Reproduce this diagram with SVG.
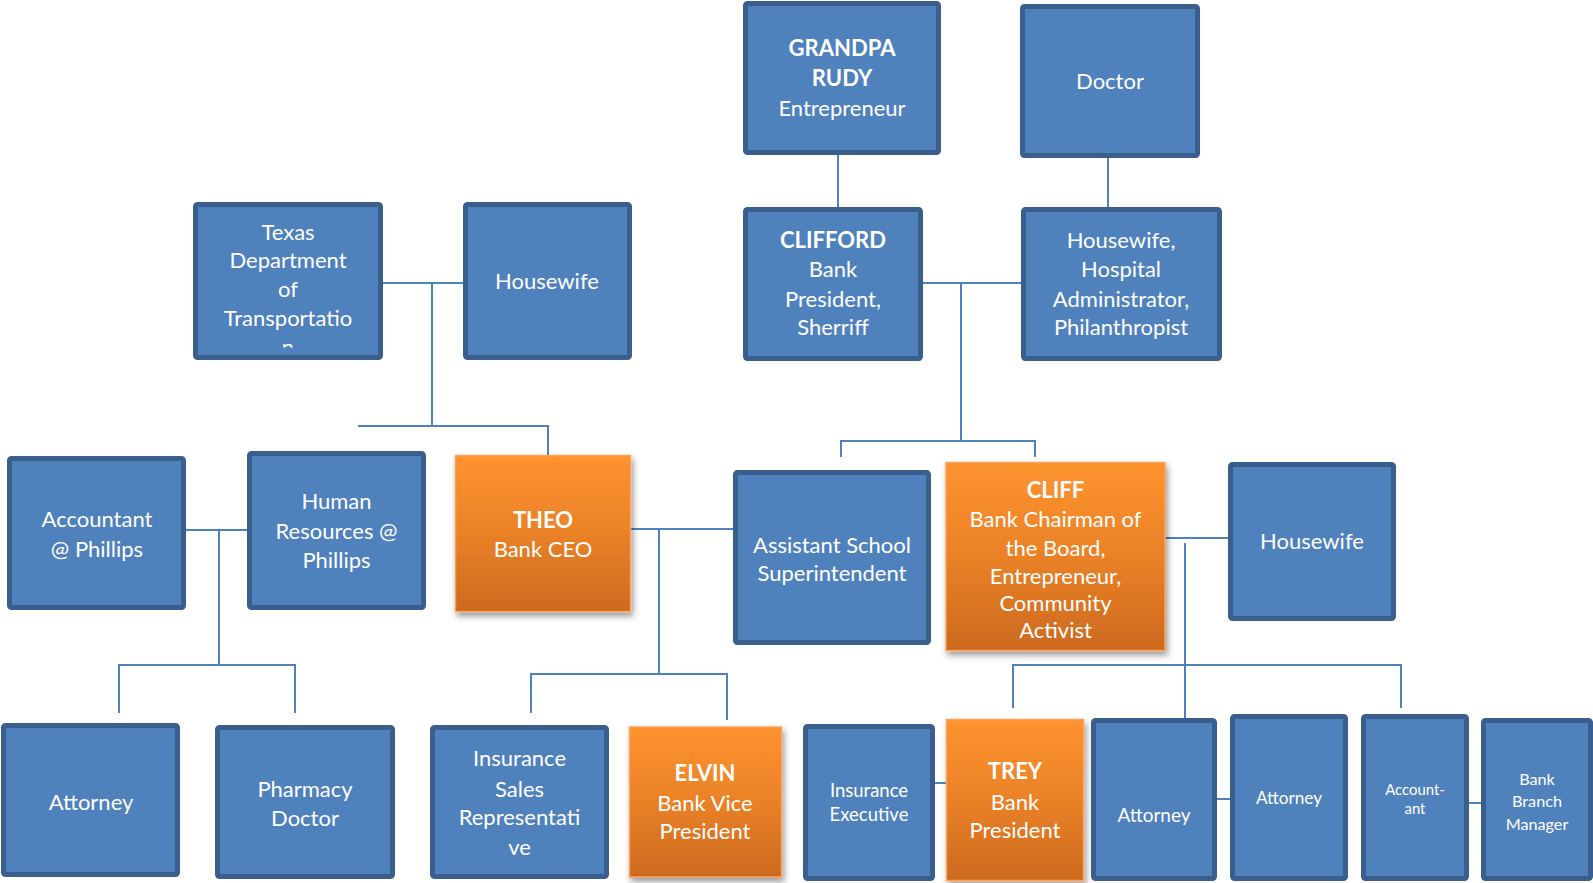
<svg xmlns="http://www.w3.org/2000/svg" width="1593" height="883" viewBox="0 0 1593 883">
  <style>
    .box { fill: #4F81BD; stroke: #3A5F8D; stroke-width: 5; }
    .hl { fill: url(#orangeFill); stroke: #F9A25E; stroke-width: 1.5; filter: url(#shadow); }
    .t { font-family: Lato, "Liberation Sans", sans-serif; font-size: 22px; fill: #FFFFFF; text-anchor: middle; }
    .b { font-weight: bold; }
    .conn path { fill: none; stroke: #4F81BD; stroke-width: 2; }
  </style>
  <defs>
    <linearGradient id="orangeFill" x1="0" y1="0" x2="0" y2="1">
      <stop offset="0" stop-color="#FE932F"/>
      <stop offset="0.5" stop-color="#EA8127"/>
      <stop offset="1" stop-color="#CC6A1F"/>
    </linearGradient>
    <filter id="shadow" x="-10%" y="-10%" width="125%" height="125%">
      <feDropShadow dx="2" dy="4" stdDeviation="3" flood-color="#000000" flood-opacity="0.4"/>
    </filter>
    <clipPath id="texasClip">
      <rect x="198" y="207" width="180" height="140.5"/>
    </clipPath>
  </defs>

  <rect width="1593" height="883" fill="#FFFFFF"/>

  <!-- connectors -->
  <g id="connectors" class="conn">
    <path d="M838,155 V207"/>
    <path d="M1108,158 V207"/>
    <path d="M923,283 H1021 M961,283 V441 M841,457 V441 H1035 V457"/>
    <path d="M383,283 H463 M432,283 V426 M358,426 H548 V455"/>
    <path d="M186,530 H247 M219,530 V665 M119,713 V665 H295 V713"/>
    <path d="M630,529 H733 M659,529 V674 M531,713 V674 H727 V720"/>
    <path d="M1158,538 H1228 M1185,543 V718"/>
    <path d="M1013,708 V665 H1401 V708"/>
    <path d="M935,783 H946 M1217,799 H1230 M1469,803 H1481"/>
  </g>

  <!-- top generation -->
  <g id="grandpa-rudy">
    <rect class="box" x="745.5" y="3.5" width="193" height="149" rx="2"/>
    <text class="t b" x="842" y="55.5">GRANDPA</text>
    <text class="t b" x="842" y="86">RUDY</text>
    <text class="t" x="842" y="115.5">Entrepreneur</text>
  </g>
  <g id="doctor">
    <rect class="box" x="1022.5" y="6.5" width="175" height="149" rx="2"/>
    <text class="t" x="1110" y="89">Doctor</text>
  </g>

  <!-- second generation -->
  <g id="texas-dot">
    <rect class="box" x="195.5" y="204.5" width="185" height="153" rx="2"/>
    <g clip-path="url(#texasClip)">
      <text class="t" x="288" y="239.5">Texas</text>
      <text class="t" x="288" y="268">Department</text>
      <text class="t" x="288" y="296.5">of</text>
      <text class="t" x="288" y="326">Transportatio</text>
      <text class="t" x="288" y="355">n</text>
    </g>
  </g>
  <g id="housewife-1">
    <rect class="box" x="465.5" y="204.5" width="164" height="153" rx="2"/>
    <text class="t" x="547" y="288.5">Housewife</text>
  </g>
  <g id="clifford">
    <rect class="box" x="745.5" y="209.5" width="175" height="149" rx="2"/>
    <text class="t b" x="833" y="248">CLIFFORD</text>
    <text class="t" x="833" y="277">Bank</text>
    <text class="t" x="833" y="306.5">President,</text>
    <text class="t" x="833" y="335">Sherriff</text>
  </g>
  <g id="housewife-2">
    <rect class="box" x="1023.5" y="209.5" width="196" height="149" rx="2"/>
    <text class="t" x="1121" y="248">Housewife,</text>
    <text class="t" x="1121" y="277">Hospital</text>
    <text class="t" x="1121" y="306.5">Administrator,</text>
    <text class="t" x="1121" y="335">Philanthropist</text>
  </g>

  <!-- third generation -->
  <g id="accountant-phillips">
    <rect class="box" x="9.5" y="458.5" width="174" height="149" rx="2"/>
    <text class="t" x="97" y="527">Accountant</text>
    <text class="t" x="97" y="556.5">@ Phillips</text>
  </g>
  <g id="hr-phillips">
    <rect class="box" x="249.5" y="453.5" width="174" height="154" rx="2"/>
    <text class="t" x="336.5" y="509">Human</text>
    <text class="t" x="336.5" y="539">Resources @</text>
    <text class="t" x="336.5" y="568">Phillips</text>
  </g>
  <g id="theo">
    <rect class="hl" x="455.5" y="455.5" width="175" height="156"/>
    <text class="t b" x="543" y="528">THEO</text>
    <text class="t" x="543" y="556.5">Bank CEO</text>
  </g>
  <g id="assistant-superintendent">
    <rect class="box" x="735.5" y="472.5" width="193" height="170" rx="2"/>
    <text class="t" x="832" y="552.5">Assistant School</text>
    <text class="t" x="832" y="581">Superintendent</text>
  </g>
  <g id="cliff">
    <rect class="hl" x="946" y="462.5" width="219" height="188"/>
    <text class="t b" x="1055.5" y="498">CLIFF</text>
    <text class="t" x="1055.5" y="527">Bank Chairman of</text>
    <text class="t" x="1055.5" y="555.5">the Board,</text>
    <text class="t" x="1055.5" y="583.5">Entrepreneur,</text>
    <text class="t" x="1055.5" y="611">Community</text>
    <text class="t" x="1055.5" y="638">Activist</text>
  </g>
  <g id="housewife-3">
    <rect class="box" x="1230.5" y="464.5" width="163" height="154" rx="2"/>
    <text class="t" x="1312" y="548.5">Housewife</text>
  </g>

  <!-- fourth generation -->
  <g id="attorney-1">
    <rect class="box" x="3.5" y="725.5" width="174" height="149" rx="2"/>
    <text class="t" x="91" y="809.5">Attorney</text>
  </g>
  <g id="pharmacy-doctor">
    <rect class="box" x="217.5" y="727.5" width="175" height="149" rx="2"/>
    <text class="t" x="305" y="796.5">Pharmacy</text>
    <text class="t" x="305" y="826">Doctor</text>
  </g>
  <g id="insurance-sales">
    <rect class="box" x="432.5" y="727.5" width="174" height="149" rx="2"/>
    <text class="t" x="519.5" y="766">Insurance</text>
    <text class="t" x="519.5" y="796.5">Sales</text>
    <text class="t" x="519.5" y="825">Representati</text>
    <text class="t" x="519.5" y="854.5">ve</text>
  </g>
  <g id="elvin">
    <rect class="hl" x="629.5" y="727" width="152" height="150"/>
    <text class="t b" x="705" y="781">ELVIN</text>
    <text class="t" x="705" y="810.5">Bank Vice</text>
    <text class="t" x="705" y="839">President</text>
  </g>
  <g id="insurance-executive">
    <rect class="box" x="805.5" y="726.5" width="127" height="152" rx="2"/>
    <text class="t" x="869" y="797.2" style="font-size:18.5px">Insurance</text>
    <text class="t" x="869" y="821.2" style="font-size:18.5px">Executive</text>
  </g>
  <g id="trey">
    <rect class="hl" x="946.5" y="719.5" width="137" height="161"/>
    <text class="t b" x="1015" y="779">TREY</text>
    <text class="t" x="1015" y="809.5">Bank</text>
    <text class="t" x="1015" y="838">President</text>
  </g>
  <g id="attorney-2">
    <rect class="box" x="1093.5" y="720.5" width="121" height="158" rx="2"/>
    <text class="t" x="1154" y="821.6" style="font-size:19px">Attorney</text>
  </g>
  <g id="attorney-3">
    <rect class="box" x="1232.5" y="716.5" width="113" height="162" rx="2"/>
    <text class="t" x="1289" y="803.8" style="font-size:17.2px">Attorney</text>
  </g>
  <g id="accountant-2">
    <rect class="box" x="1363.5" y="716.5" width="103" height="162" rx="2"/>
    <text class="t" x="1415" y="794.7" style="font-size:14.9px">Account-</text>
    <text class="t" x="1415" y="814.2" style="font-size:14.9px">ant</text>
  </g>
  <g id="bank-branch-manager">
    <rect class="box" x="1483.5" y="720.5" width="107" height="158" rx="2"/>
    <text class="t" x="1537" y="784.8" style="font-size:16.2px">Bank</text>
    <text class="t" x="1537" y="807.2" style="font-size:16.2px">Branch</text>
    <text class="t" x="1537" y="829.8" style="font-size:16.2px">Manager</text>
  </g>
</svg>
